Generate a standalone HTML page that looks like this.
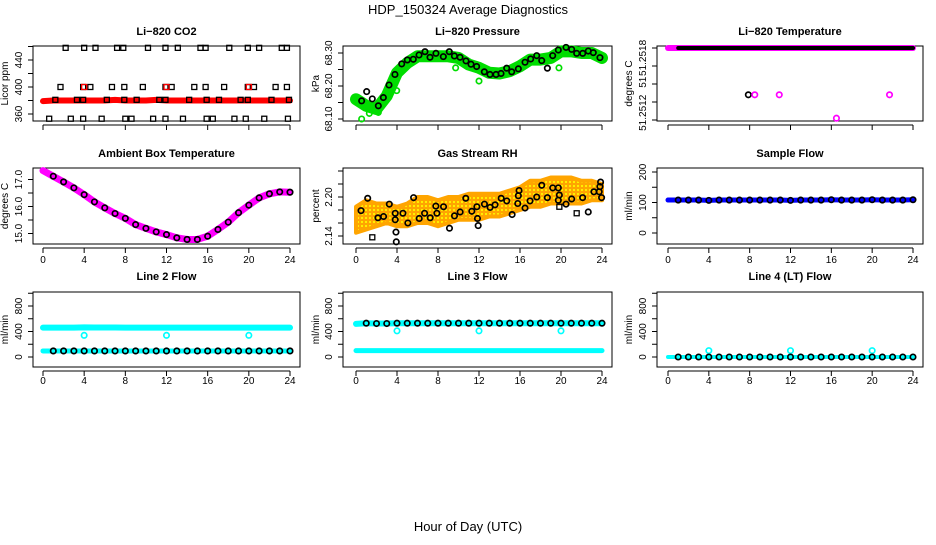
<!DOCTYPE html>
<html><head><meta charset="utf-8"><style>
body{margin:0;background:#fff;}
svg text{font-family:"Liberation Sans",sans-serif;}
</style></head><body>
<svg id="c" width="936" height="540" xmlns="http://www.w3.org/2000/svg">
<defs>
<pattern id="rhpat" width="4" height="4" patternUnits="userSpaceOnUse">
<rect width="4" height="4" fill="#ffa500"/><rect x="1" y="1" width="2" height="2" fill="#ffee00"/>
</pattern>
</defs>
<text x="468" y="14" text-anchor="middle" font-size="13">HDP_150324  Average Diagnostics</text>
<text x="468" y="531" text-anchor="middle" font-size="13">Hour of Day (UTC)</text>
</svg>
<script>
const xTicks=[0,4,8,12,16,20,24];
const hours=[0,1,2,3,4,5,6,7,8,9,10,11,12,13,14,15,16,17,18,19,20,21,22,23,24];
// CO2
const co2BlackH=[2.2,4.0,5.1,7.2,7.8,10.2,11.9,13.1,15.3,15.8,18.1,19.9,21.0,23.2,23.7,1.7,3.9,4.6,6.7,7.9,9.7,11.9,12.5,14.7,15.8,17.6,19.9,20.5,22.6,23.7,1.2,3.3,3.9,6.2,7.9,9.1,11.3,11.9,14.2,15.9,17.1,19.2,19.9,22.2,23.9,0.6,2.7,3.9,5.7,8.0,8.6,10.7,11.9,13.6,15.9,16.5,18.6,19.7,21.5,23.8];
const co2BlackV=[458,458,458,458,458,458,458,458,458,458,458,458,458,458,458,400,400,400,400,400,400,400,400,400,400,400,400,400,400,400,381,381,381,381,381,381,381,381,381,381,381,381,381,381,381,353,353,353,353,353,353,353,353,353,353,353,353,353,353,353];
const co2Band=[379,380,380,380,380,380,380,381,380,380,380,381,380,380,380,380,380,380,380,380,380,380,380,380,380];
const co2RedH=[4,12,20];
const co2RedV=[400,400,400];
// Pressure
const prH=[0.55,1.04,1.59,2.18,2.67,3.22,3.8,4.46,5.01,5.59,6.15,6.73,7.22,7.8,8.52,9.1,9.6,10.15,10.73,11.22,11.77,12.52,13.07,13.66,14.15,14.7,15.19,15.84,16.49,17.04,17.63,18.12,18.67,19.19,19.74,20.49,21.04,21.53,22.12,22.66,23.15,23.8];
const prV=[68.155,68.183,68.161,68.14,68.165,68.203,68.235,68.267,68.279,68.281,68.294,68.304,68.287,68.299,68.289,68.304,68.291,68.287,68.276,68.266,68.259,68.243,68.235,68.235,68.238,68.254,68.243,68.252,68.272,68.282,68.292,68.277,68.254,68.292,68.309,68.317,68.311,68.299,68.299,68.306,68.301,68.286];
const prBand=[68.16,68.14,68.13,68.17,68.24,68.27,68.29,68.29,68.29,68.29,68.285,68.265,68.255,68.24,68.238,68.245,68.26,68.28,68.28,68.285,68.305,68.305,68.3,68.3,68.285];
const prOutH=[0.55,1.3,2.18,3.97,9.72,12.0,19.8];
const prOutV=[68.10,68.117,68.12,68.186,68.255,68.215,68.255];
// Li-820 temperature
const ltBand=[51.2518,51.2518,51.2518,51.2518,51.2518,51.2518,51.2518,51.2518,51.2518,51.2518,51.2518,51.2518,51.2518,51.2518,51.2518,51.2518,51.2518,51.2518,51.2518,51.2518,51.2518,51.2518,51.2518,51.2518,51.2518];
const ltBlackH=[7.87];
const ltBlackV=[51.25128];
const ltMagH=[8.5,10.9,16.5,21.7];
const ltMagV=[51.25128,51.25128,51.25102,51.25128];
// Ambient box temperature
const ambV=[17.33,17.12,16.91,16.69,16.44,16.17,15.95,15.74,15.56,15.33,15.19,15.06,14.96,14.84,14.78,14.78,14.90,15.15,15.42,15.77,16.05,16.32,16.47,16.54,16.53];
// Gas stream RH
const rhUpper=[2.185,2.195,2.19,2.19,2.185,2.19,2.2,2.2,2.195,2.2,2.2,2.205,2.205,2.205,2.205,2.21,2.215,2.225,2.225,2.23,2.23,2.23,2.225,2.225,2.22];
const rhLower=[2.145,2.15,2.155,2.16,2.155,2.155,2.16,2.16,2.155,2.16,2.165,2.165,2.165,2.17,2.17,2.175,2.18,2.185,2.185,2.19,2.19,2.19,2.19,2.195,2.195];
const rhH=[0.49,1.14,2.14,2.69,3.25,3.83,3.83,3.9,3.93,4.58,5.06,5.62,6.17,6.69,7.24,7.79,7.89,8.54,9.12,9.61,10.16,10.71,11.3,11.79,11.85,11.92,12.53,13.08,13.57,14.16,14.71,15.23,15.78,15.84,15.91,16.49,16.98,17.63,18.12,18.67,19.19,19.74,19.74,19.84,20.49,21.04,22.11,22.66,23.21,23.73,23.8,23.86,23.96];
const rhV=[2.179,2.198,2.168,2.17,2.189,2.175,2.165,2.146,2.131,2.175,2.16,2.199,2.167,2.175,2.168,2.186,2.175,2.185,2.152,2.171,2.177,2.198,2.178,2.185,2.167,2.156,2.189,2.184,2.188,2.198,2.194,2.173,2.19,2.202,2.21,2.183,2.194,2.2,2.218,2.199,2.214,2.214,2.195,2.203,2.189,2.197,2.199,2.177,2.208,2.208,2.216,2.223,2.199];
const rhSqH=[1.59,19.84,21.53];
const rhSqV=[2.138,2.185,2.175];
// Sample flow
const sfV=[108,108,108,108,107,108,108,108,108,108,108,108,107,108,108,108,109,108,108,108,109,108,108,108,109];
// Line 2 flow
const l2Upper=[460,460,460,460,465,462,462,462,460,460,460,460,460,460,460,460,460,460,460,460,460,460,460,460,460];
const l2Lower=[95,95,95,95,95,95,95,95,95,95,95,95,95,95,95,95,95,95,95,95,95,95,95,95,95];
const l2OutH=[4,12,20];
const l2OutV=[340,340,340];
// Line 3 flow
const l3Upper=[520,530,525,525,530,530,530,530,530,530,530,530,530,530,530,530,530,530,530,530,530,530,530,530,530];
const l3Lower=[100,100,100,100,100,100,100,100,100,100,100,100,100,100,100,100,100,100,100,100,100,100,100,100,100];
const l3OutH=[4,12,20];
const l3OutV=[410,410,410];
// Line 4 flow
const l4V=[0,0,0,0,0,0,0,0,0,0,0,0,0,0,0,0,0,0,0,0,0,0,0,0,0];
const l4OutH=[4,12,20];
const l4OutV=[100,100,100];

const NS="http://www.w3.org/2000/svg";
const svg=document.getElementById('c');
function mk(tag,attrs,parent){const e=document.createElementNS(NS,tag);for(const k in attrs)e.setAttribute(k,attrs[k]);(parent||svg).appendChild(e);return e;}

const cols=[{l:33,r:300,x0:43,x24:290,tt:8},{l:343,r:612,x0:356,x24:602,tt:319},{l:657,r:923,x0:668,x24:913,tt:632}];
const rows=[{t:46,b:121,tl:140,title:35},{t:168,b:244,tl:263,title:157},{t:292,b:367,tl:384,title:280}];

function panel(name,ci,ri,title,ytitle,va,pa,vb,pb,yticks,ylabels){
  const c=cols[ci],r=rows[ri];
  const g=mk('g',{});
  
  
  const xs=h=>c.x0+(c.x24-c.x0)*h/24;
  const ys=v=>pa+(pb-pa)*(v-va)/(vb-va);
  const bx=mk('rect',{x:c.l,y:r.t,width:c.r-c.l,height:r.b-r.t,fill:'none',stroke:'#000','stroke-width':1},g);
  
  
  const t=mk('text',{x:(c.l+c.r)/2,y:r.title,'text-anchor':'middle','font-size':11,'font-weight':'bold'},g);
  t.textContent=title;
  
  
  const yt=mk('text',{transform:`translate(${c.tt},${(r.t+r.b)/2}) rotate(-90)`,'text-anchor':'middle','font-size':10},g);
  yt.textContent=ytitle;
  
  
  const axg=mk('g',{},g);
  
  
  mk('line',{x1:xs(0),x2:xs(24),y1:r.b+4,y2:r.b+4,stroke:'#000'},axg);
  xTicks.forEach(h=>{mk('line',{x1:xs(h),x2:xs(h),y1:r.b+4,y2:r.b+9,stroke:'#000'},axg);
    if(ri>0){const tx=mk('text',{x:xs(h),y:r.tl,'text-anchor':'middle','font-size':10},axg);tx.textContent=h;}});
  const ayg=mk('g',{},g);
  
  
  mk('line',{x1:c.l,x2:c.l,y1:ys(yticks[0]),y2:ys(yticks[yticks.length-1]),stroke:'#000'},ayg);
  yticks.forEach(v=>mk('line',{x1:c.l-5,x2:c.l,y1:ys(v),y2:ys(v),stroke:'#000'},ayg));
  ylabels.forEach(l=>{const tx=mk('text',{transform:`translate(${c.l-11},${ys(l[0])}) rotate(-90)`,'text-anchor':'middle','font-size':10},ayg);tx.textContent=l[1];});
  return {g,xs,ys};
}
function band(p,name,hs,vs,color,w){
  const pts=hs.map((h,i)=>p.xs(h)+','+p.ys(vs[i])).join(' ');
  const e=mk('polyline',{points:pts,fill:'none',stroke:color,'stroke-width':w,'stroke-linejoin':'round','stroke-linecap':'round'},p.g);
  
  
}
function pts(p,name,hs,vs,color,shape,r){
  const g=mk('g',{},p.g);
  
  
  hs.forEach((h,i)=>{const x=p.xs(h),y=p.ys(vs[i]);
    if(shape=='sq')mk('rect',{x:x-2.5,y:y-2.5,width:5,height:5,fill:'none',stroke:color,'stroke-width':1.3},g);
    else mk('circle',{cx:x,cy:y,r:r||2.7,fill:'none',stroke:color,'stroke-width':1.7},g);});
}
function area(p,name,hs,up,lo,color){
  const a=hs.map((h,i)=>p.xs(h)+','+p.ys(up[i]));
  const b=hs.slice().reverse().map((h,i)=>p.xs(h)+','+p.ys(lo[hs.length-1-i]));
  const e=mk('polygon',{points:a.concat(b).join(' '),fill:color,stroke:'#ffa500','stroke-width':4,'stroke-linejoin':'round'},p.g);
  
  
}

let p=panel('co2',0,0,'Li\u2212820 CO2','Licor ppm',360,114,440,60,[360,380,400,420,440,460],[[360,'360'],[400,'400'],[440,'440']]);
band(p,'co2-red-band',hours,co2Band,'#ff0000',6);
pts(p,'co2-black-points',co2BlackH,co2BlackV,'#000','sq');
pts(p,'co2-red-points',co2RedH,co2RedV,'#ff0000','sq');

p=panel('pressure',1,0,'Li\u2212820 Pressure','kPa',68.10,119,68.30,53,[68.10,68.15,68.20,68.25,68.30],[[68.10,'68.10'],[68.20,'68.20'],[68.30,'68.30']]);
band(p,'pressure-green-band',hours,prBand,'#00dd00',12);
pts(p,'pressure-green-outliers',prOutH,prOutV,'#00dd00','c');
pts(p,'pressure-black-points',prH,prV,'#000','c');

p=panel('li-temp',2,0,'Li\u2212820 Temperature','degrees C',51.2510,120,51.2518,48,[51.2510,51.2512,51.2514,51.2516,51.2518],[[51.25169,'51.2518'],[51.25142,'51'],[51.25108,'51.2512']]);
band(p,'li-temp-magenta-band',hours,ltBand,'#ff00ff',6);
band(p,'li-temp-black-band',hours.slice(1),ltBand.slice(1),'#000',4);
pts(p,'li-temp-black-outlier',ltBlackH,ltBlackV,'#000','c');
pts(p,'li-temp-magenta-outliers',ltMagH,ltMagV,'#ff00ff','c');

p=panel('ambient',0,1,'Ambient Box Temperature','degrees C',15,233.5,17,179.5,[15,15.5,16,16.5,17],[[15,'15.0'],[16,'16.0'],[17,'17.0']]);
band(p,'ambient-magenta-band',hours,ambV,'#ff00ff',7);
pts(p,'ambient-black-points',hours.slice(1),ambV.slice(1),'#000','c');

p=panel('gas-rh',1,1,'Gas Stream RH','percent',2.14,236,2.20,197,[2.14,2.16,2.18,2.20,2.22,2.24],[[2.14,'2.14'],[2.20,'2.20']]);
area(p,'gas-rh-orange-cloud',hours,rhUpper,rhLower,'url(#rhpat)');
pts(p,'gas-rh-black-points',rhH,rhV,'#000','c');
pts(p,'gas-rh-black-squares',rhSqH,rhSqV,'#000','sq');

p=panel('sample-flow',2,1,'Sample Flow','ml/min',0,233,200,172,[0,50,100,150,200],[[0,'0'],[100,'100'],[200,'200']]);
band(p,'sample-flow-blue-band',hours,sfV,'#0000ff',5);
pts(p,'sample-flow-black-points',hours.slice(1),sfV.slice(1),'#000','c');

p=panel('line2-flow',0,2,'Line 2 Flow','ml/min',0,357,800,306,[0,200,400,600,800,1000],[[0,'0'],[400,'400'],[800,'800']]);
band(p,'line2-cyan-upper',hours,l2Upper,'#00ffff',6);
band(p,'line2-cyan-lower',hours,l2Lower,'#00ffff',5);
pts(p,'line2-cyan-outliers',l2OutH,l2OutV,'#00ffff','c');
pts(p,'line2-black-points',hours.slice(1),l2Lower.slice(1),'#000','c');

p=panel('line3-flow',1,2,'Line 3 Flow','ml/min',0,357,800,306,[0,200,400,600,800,1000],[[0,'0'],[400,'400'],[800,'800']]);
band(p,'line3-cyan-upper',hours,l3Upper,'#00ffff',6);
band(p,'line3-cyan-lower',hours,l3Lower,'#00ffff',5);
pts(p,'line3-cyan-outliers',l3OutH,l3OutV,'#00ffff','c');
pts(p,'line3-black-points',hours.slice(1),l3Upper.slice(1),'#000','c');

p=panel('line4-flow',2,2,'Line 4 (LT) Flow','ml/min',0,357,800,306,[0,200,400,600,800,1000],[[0,'0'],[400,'400'],[800,'800']]);
band(p,'line4-cyan-band',hours,l4V,'#00ffff',4);
pts(p,'line4-cyan-outliers',l4OutH,l4OutV,'#00ffff','c');
pts(p,'line4-black-points',hours.slice(1),l4V.slice(1),'#000','c');
</script>
</body></html>
